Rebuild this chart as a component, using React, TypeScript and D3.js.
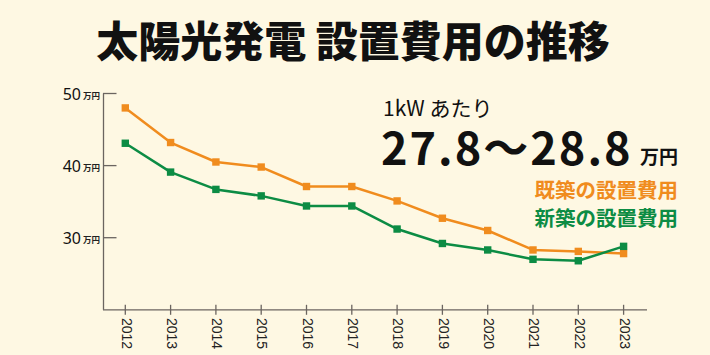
import React from "react";
import * as d3 from "d3";

const years = ["2012","2013","2014","2015","2016","2017","2018","2019","2020","2021","2022","2023"];
const existingCost = [48.0, 43.2, 40.5, 39.8, 37.1, 37.1, 35.1, 32.7, 31.0, 28.3, 28.1, 27.8];
const newCost = [43.1, 39.1, 36.7, 35.8, 34.4, 34.4, 31.2, 29.2, 28.3, 27.0, 26.8, 28.8];
const yTicks = [30, 40, 50];
const title = "太陽光発電 設置費用の推移";
const seriesNames = ["既築の設置費用", "新築の設置費用"];

const W = 710, H = 355;
const BG = "#FEF8E3";
const ORANGE = "#F08C1E";
const GREEN = "#0C8C44";
const AXIS = "#6b6560";
const JP = "'Noto Sans CJK JP', 'Noto Sans', sans-serif";

export default function App() {
  const x = d3.scalePoint<string>().domain(years).range([125.3, 623.6]);
  const y = d3.scaleLinear().domain([20, 50]).range([309.8, 93.5]);
  const line = d3.line<number>().x((_, i) => x(years[i])!).y((d) => y(d));
  const series = [
    { values: existingCost, color: ORANGE },
    { values: newCost, color: GREEN },
  ];
  return (
    <div style={{ position: "fixed", left: 0, top: 0 }}>
      <svg width={W} height={H} style={{ display: "block" }}>
        <rect width={W} height={H} fill={BG} />
        <text x={353} y={57} textAnchor="middle" fontFamily={JP} fontWeight={900} fontSize={42} fill="#111">{title}</text>

        {/* axes */}
        <line x1={103.5} x2={103.5} y1={y(50)} y2={y(20)} stroke={AXIS} strokeWidth={1.3} />
        <line x1={103} x2={647} y1={y(20)} y2={y(20)} stroke={AXIS} strokeWidth={1.3} />
        {yTicks.map((t) => (
          <g key={t}>
            <line x1={103} x2={116.5} y1={y(t)} y2={y(t)} stroke={AXIS} strokeWidth={1.3} />
            <text x={81} y={y(t) + 6} textAnchor="end" fontFamily="'Noto Sans', sans-serif" fontSize={16} fill="#111">{t}</text>
            <text x={83} y={y(t) + 5} fontFamily={JP} fontWeight={700} fontSize={8.5} fill="#222">万円</text>
          </g>
        ))}
        {years.map((yr) => (
          <g key={yr}>
            <line x1={x(yr)} x2={x(yr)} y1={y(20) - 5} y2={y(20) + 5} stroke={AXIS} strokeWidth={1.3} />
            <text transform={`translate(${x(yr)},${318}) rotate(90)`} dominantBaseline="middle" fontFamily="'Liberation Sans', Arial, sans-serif" fontSize={14} fill="#222">{yr}</text>
          </g>
        ))}

        {series.map((s, si) => (
          <g key={si}>
            <path d={line(s.values)!} fill="none" stroke={s.color} strokeWidth={2.5} strokeLinejoin="round" />
            {s.values.map((v, i) => (
              <rect key={i} x={x(years[i])! - 3.7} y={y(v) - 3.7} width={7.4} height={7.4} fill={s.color} />
            ))}
          </g>
        ))}

        <text x={383} y={116} fontFamily={JP} fontSize={21} fill="#111">1kW あたり</text>
        <text x={381} y={165} fontFamily={JP} fontWeight={700} fontSize={45} letterSpacing={2} fill="#111">27.8〜28.8</text>
        <text x={678} y={164} textAnchor="end" fontFamily={JP} fontWeight={700} fontSize={19} fill="#111">万円</text>
        <text x={678} y={198} textAnchor="end" fontFamily={JP} fontWeight={700} fontSize={20.5} fill={ORANGE}>{seriesNames[0]}</text>
        <text x={678} y={226} textAnchor="end" fontFamily={JP} fontWeight={700} fontSize={20.5} fill={GREEN}>{seriesNames[1]}</text>
      </svg>
    </div>
  );
}
